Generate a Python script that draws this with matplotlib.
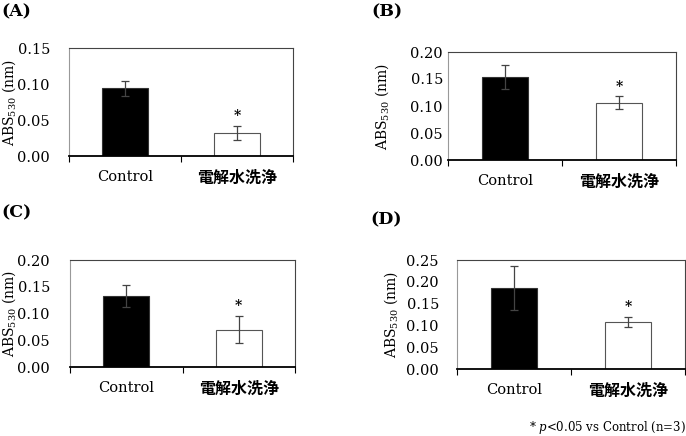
import matplotlib
matplotlib.use("Agg")
import matplotlib.pyplot as plt
import numpy as np

plt.rcParams['font.family'] = ['DejaVu Serif']
plt.rcParams['mathtext.fontset'] = 'dejavuserif'

W, H = 686, 436

# data
groups = ["Control", "電解水洗浄"]
panel_names = ["(A)", "(B)", "(C)", "(D)"]
means_a = [0.094, 0.032]
errs_a = [0.010, 0.010]
means_b = [0.153, 0.106]
errs_b = [0.022, 0.012]
means_c = [0.133, 0.070]
errs_c = [0.020, 0.025]
means_d = [0.186, 0.108]
errs_d = [0.050, 0.012]
ymax = [0.15, 0.20, 0.20, 0.25]
ysteps = [0.05, 0.05, 0.05, 0.05]

means = [means_a, means_b, means_c, means_d]
errs = [errs_a, errs_b, errs_c, errs_d]

# axes boxes in pixels: left, right, top, bottom
boxes = [(69, 293, 48, 156), (448, 676, 52, 160),
         (70, 295, 260, 367), (457, 685, 260, 369)]
ylab_x = [18, 391, 18, 400]   # right edge of the rotated label
ypad = [19, 5, 20, 18]
letters_xy = [(1, 12), (371, 12), (1, 213), (370, 220)]

fig = plt.figure(figsize=(W / 100, H / 100), dpi=100)

for i in range(4):
    l, r, t, b = boxes[i]
    ax = fig.add_axes([l / W, 1 - b / H, (r - l) / W, (b - t) / H])
    x = np.arange(len(groups))
    ax.bar(x, means[i], width=0.41, color=["black", "white"],
           edgecolor=["#333333", "#555555"], linewidth=0.8, zorder=2)
    ax.errorbar(x, means[i], yerr=errs[i], fmt="none", ecolor="#444444",
                elinewidth=0.9, capsize=3, capthick=0.9, zorder=3)
    # significance mark
    ax.annotate("*", (x[1], means[i][1] + errs[i][1]), xytext=(0, 2),
                textcoords="offset points", ha="center", va="bottom",
                fontsize=10, fontweight="bold")
    ax.set_xlim(-0.5, 1.5)
    ax.set_ylim(0, ymax[i])
    ax.set_yticks(np.arange(0, ymax[i] + 1e-9, ysteps[i]))
    ax.yaxis.set_major_formatter(matplotlib.ticker.FormatStrFormatter("%.2f"))
    ax.tick_params(axis="y", length=0, pad=ypad[i] * 0.72, labelsize=10.5)
    ax.set_xticks(x)
    ax.set_xticks([-0.5, 0.5, 1.5], minor=True)
    ax.tick_params(axis="x", which="major", length=0, pad=10)
    ax.tick_params(axis="x", which="minor", length=4, width=0.8, direction="out")
    ax.set_xticklabels(groups)
    lbls = ax.get_xticklabels()
    lbls[0].set_fontsize(10.5)
    lbls[1].set_fontfamily(["Noto Sans CJK JP", "DejaVu Sans"])
    lbls[1].set_fontweight("bold")
    lbls[1].set_fontsize(11.5)
    ax.spines["bottom"].set_linewidth(1.3)
    ax.spines["bottom"].set_color("black")
    ax.spines["left"].set_color("#999999")
    ax.spines["left"].set_linewidth(0.8)
    ax.spines["top"].set_color("#444444")
    ax.spines["right"].set_color("#444444")
    ax.spines["top"].set_linewidth(0.8)
    ax.spines["right"].set_linewidth(0.8)
    ax.set_ylabel("ABS$_{530}$ (nm)", fontsize=10)
    ax.yaxis.set_label_coords((ylab_x[i] - l) / (r - l), 0.5)
    lx, ly = letters_xy[i]
    fig.text(lx / W, 1 - ly / H, panel_names[i], fontsize=12.5,
             fontweight="bold", ha="left", va="center")

fig.text(529 / W, 1 - 427 / H, "* $p$<0.05 vs Control (n=3)", fontsize=8.5,
         ha="left", va="center")

fig.savefig("out.png", dpi=100)
